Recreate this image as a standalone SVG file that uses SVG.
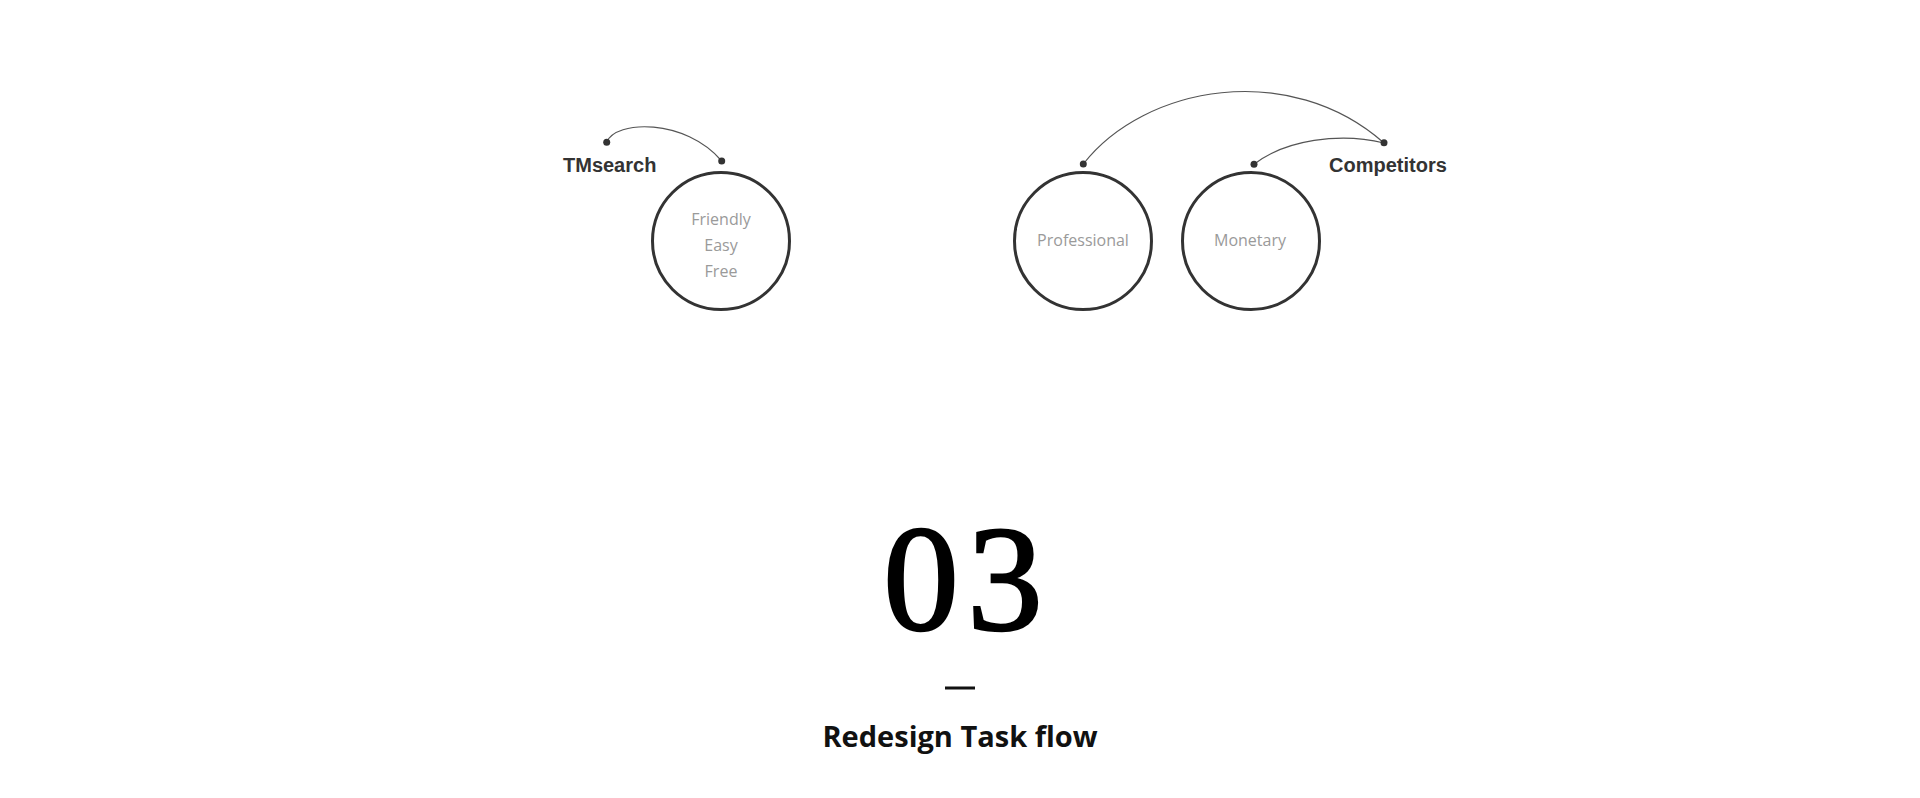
<svg xmlns="http://www.w3.org/2000/svg" width="1920" height="798" viewBox="0 0 1920 798">
<style>
.node circle{fill:none;stroke:#333;stroke-width:3}
.lbl{font-family:"Open Sans","Noto Sans",sans-serif;font-size:16px;fill:#9a9a9a;text-anchor:middle}
.head{font-family:"Liberation Sans",Arial,sans-serif;font-weight:bold;font-size:20px;fill:#333}
.arc{fill:none;stroke:#555;stroke-width:1.2}
.dot{fill:#333}
</style>
<rect width="1920" height="798" fill="#fff"/>
<g id="connectors">
<path class="arc" d="M606.7,142.3 C615,120 685,118 721.7,161"/>
<path class="arc" d="M1083.3,164 C1145,85 1290,60 1384,143"/>
<path class="arc" d="M1254,164.3 C1285,140 1340,132 1384,143"/>
<circle class="dot" cx="606.7" cy="142.3" r="3.5"/>
<circle class="dot" cx="721.7" cy="161" r="3.5"/>
<circle class="dot" cx="1083.3" cy="164" r="3.5"/>
<circle class="dot" cx="1254" cy="164.3" r="3.5"/>
<circle class="dot" cx="1384" cy="142.7" r="3.5"/>
</g>
<g id="tmsearch"><text class="head" x="563" y="172">TMsearch</text></g>
<g id="competitors"><text class="head" x="1329" y="172">Competitors</text></g>
<g id="node-friendly" class="node">
<circle cx="721" cy="241" r="68.5"/>
<text class="lbl" x="721" y="225">Friendly</text>
<text class="lbl" x="721" y="251">Easy</text>
<text class="lbl" x="721" y="277">Free</text>
</g>
<g id="node-professional" class="node">
<circle cx="1083" cy="241" r="68.5"/>
<text class="lbl" x="1083" y="246">Professional</text>
</g>
<g id="node-monetary" class="node">
<circle cx="1251" cy="241" r="68.5"/>
<text class="lbl" x="1250" y="246">Monetary</text>
</g>
<g id="title">
<text y="630" font-family="Liberation Serif,'Times New Roman',serif" font-size="151" text-anchor="middle" fill="#000" stroke="#000" stroke-width="2.5"><tspan x="921">0</tspan><tspan x="1005">3</tspan></text>
<rect x="945" y="686.5" width="30" height="3" fill="#111"/>
<text x="960" y="747" font-family="'Open Sans','Noto Sans',sans-serif" font-weight="bold" font-size="29" text-anchor="middle" fill="#111">Redesign Task flow</text>
</g>
</svg>
